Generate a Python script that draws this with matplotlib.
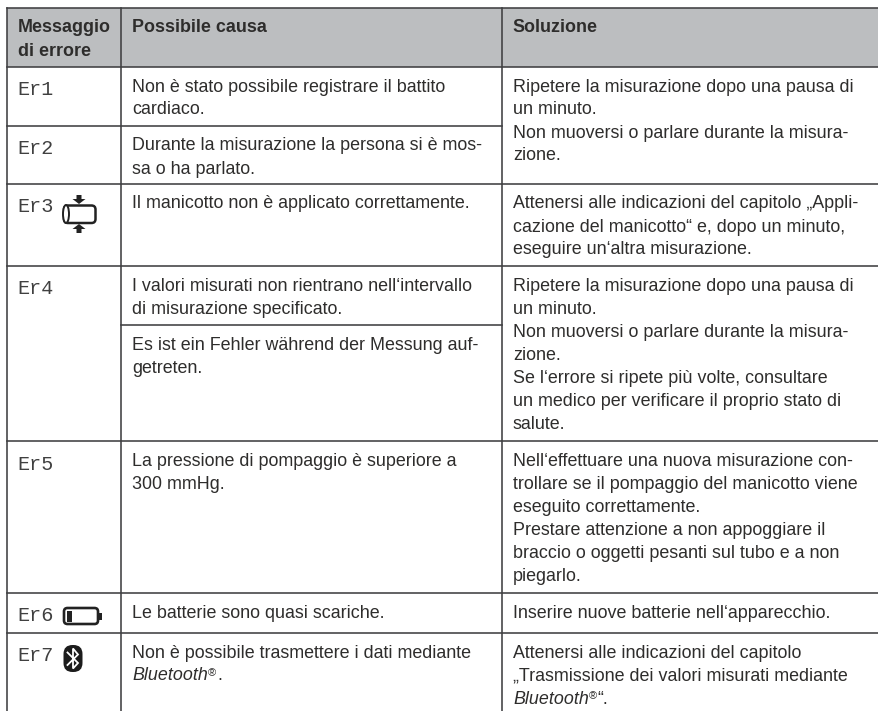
import matplotlib
matplotlib.use("Agg")
import matplotlib.pyplot as plt
from matplotlib.patches import Rectangle, FancyBboxPatch, Polygon, Ellipse

plt.rcParams['font.family'] = ['Liberation Sans', 'DejaVu Sans']

# table content
headers = [["Messaggio", "di errore"], ["Possibile causa"], ["Soluzione"]]
codes = ["Er1", "Er2", "Er3", "Er4", "Er5", "Er6", "Er7"]
causes = [
    ["Non è stato possibile registrare il battito", "cardiaco."],
    ["Durante la misurazione la persona si è mos-", "sa o ha parlato."],
    ["Il manicotto non è applicato correttamente."],
    ["I valori misurati non rientrano nell‘intervallo", "di misurazione specificato."],
    ["Es ist ein Fehler während der Messung auf-", "getreten."],
    ["La pressione di pompaggio è superiore a", "300 mmHg."],
    ["Le batterie sono quasi scariche."],
    ["Non è possibile trasmettere i dati mediante", "*Bluetooth*®."],
]
solutions = [
    ["Ripetere la misurazione dopo una pausa di", "un minuto.",
     "Non muoversi o parlare durante la misura-", "zione."],
    ["Attenersi alle indicazioni del capitolo „Appli-",
     "cazione del manicotto“ e, dopo un minuto,", "eseguire un‘altra misurazione."],
    ["Ripetere la misurazione dopo una pausa di", "un minuto.",
     "Non muoversi o parlare durante la misura-", "zione.",
     "Se l‘errore si ripete più volte, consultare",
     "un medico per verificare il proprio stato di", "salute."],
    ["Nell‘effettuare una nuova misurazione con-",
     "trollare se il pompaggio del manicotto viene", "eseguito correttamente.",
     "Prestare attenzione a non appoggiare il",
     "braccio o oggetti pesanti sul tubo e a non", "piegarlo."],
    ["Inserire nuove batterie nell‘apparecchio."],
    ["Attenersi alle indicazioni del capitolo",
     "„Trasmissione dei valori misurati mediante", "*Bluetooth*®“."],
]

# layout in pixels
X_L, X_1, X_2, X_R = 7.5, 121, 502, 879
Y_TOP, Y_HEAD = 8, 66.5
code_tops = [66.5, 125.5, 183.5, 266, 441, 592.7, 632.5]
cause_tops = [66.5, 125.5, 183.5, 266, 325, 441, 592.7, 632.5]
solution_tops = [66.5, 183.5, 266, 441, 592.7, 632.5]
full_rules = [8, 66.5, 183.5, 266, 441, 592.7, 632.5]
X_TXT = [18.5, 132.5, 513]
LEAD = 23
OFF = 25
FS = 12.87
INK = "#2e2d2c"
RULE = "#3f3f41"
LW = 1.15

fig = plt.figure(figsize=(8.79, 7.11), dpi=100)
ax = fig.add_axes([0, 0, 1, 1])
ax.set_xlim(0, 879)
ax.set_ylim(711, 0)
ax.axis("off")


def put_line(x, y, line):
    # pieces between * are italic, ® is small and raised
    italic = False
    r = fig.canvas.get_renderer()
    inv = ax.transData.inverted()
    for part in line.split("*"):
        for i, piece in enumerate(part.split("®")):
            if i > 0:
                t = ax.text(x, y - 4, "®", fontsize=FS * 0.62, color=INK, va="baseline")
                x = inv.transform(t.get_window_extent(r))[1][0] + 0.5
            if piece:
                t = ax.text(x, y, piece, fontsize=FS, color=INK, va="baseline",
                            style="italic" if italic else "normal")
                x = inv.transform(t.get_window_extent(r))[1][0]
        italic = not italic


def put_cell(x, top, lines):
    for i, line in enumerate(lines):
        put_line(x, top + OFF + i * LEAD, line)


# header
ax.add_patch(Rectangle((X_L, Y_TOP), X_R - X_L, Y_HEAD - Y_TOP, fc="#bcbec0", ec="none"))
for x, lines in zip(X_TXT, headers):
    for i, line in enumerate(lines):
        ax.text(x - 0.5, Y_TOP + OFF - 0.5 + i * LEAD, line, fontsize=FS, weight="bold",
                color=INK, va="baseline")

# rules
for x in (X_L, X_1, X_2):
    ax.plot([x, x], [Y_TOP, 711], color=RULE, lw=LW)
for y in full_rules:
    ax.plot([X_L, X_R], [y, y], color=RULE, lw=LW)
ax.plot([X_L, X_2], [125.5, 125.5], color=RULE, lw=LW)
ax.plot([X_1, X_2], [325, 325], color=RULE, lw=LW)

# cells
for top, code in zip(code_tops, codes):
    ax.text(17, top + 28.5, code, family="Liberation Mono", fontsize=14.5,
            color="#404040", va="baseline")
for top, lines in zip(cause_tops, causes):
    put_cell(X_TXT[1], top, lines)
for top, lines in zip(solution_tops, solutions):
    put_cell(X_TXT[2], top, lines)

# cuff icon
ax.add_patch(FancyBboxPatch((64, 205.5), 31.5, 17.5, boxstyle="round,pad=0,rounding_size=4",
                            fc="white", ec="#222222", lw=1.8))
ax.add_patch(Ellipse((66, 214), 6, 18, fc="white", ec="#222222", lw=1.4))
ax.add_patch(Polygon([[76.5, 195], [81.5, 195], [81.5, 199], [85.5, 199], [79, 204], [72.5, 199], [76.5, 199]],
                     fc="#222222", ec="none"))
ax.add_patch(Polygon([[76.5, 233], [81.5, 233], [81.5, 229], [85.5, 229], [79, 224], [72.5, 229], [76.5, 229]],
                     fc="#222222", ec="none"))

# battery icon
ax.add_patch(FancyBboxPatch((64, 608), 34, 16, boxstyle="round,pad=0,rounding_size=3.5",
                            fc="white", ec="#222222", lw=1.9))
ax.add_patch(Rectangle((98.5, 612.5), 3.5, 7, fc="#222222", ec="none"))
ax.add_patch(Rectangle((67.5, 611), 5, 10.5, fc="#222222", ec="none"))

# bluetooth icon
ax.add_patch(FancyBboxPatch((63.5, 645), 19, 27, boxstyle="round,pad=0,rounding_size=9",
                            fc="#1c1c1c", ec="none"))
ax.plot([67.5, 78, 73, 73, 78, 67.5], [652.5, 663, 668.5, 648.5, 654.5, 665],
        color="white", lw=1.3, solid_joinstyle="miter")

fig.savefig("out.png", dpi=100)
